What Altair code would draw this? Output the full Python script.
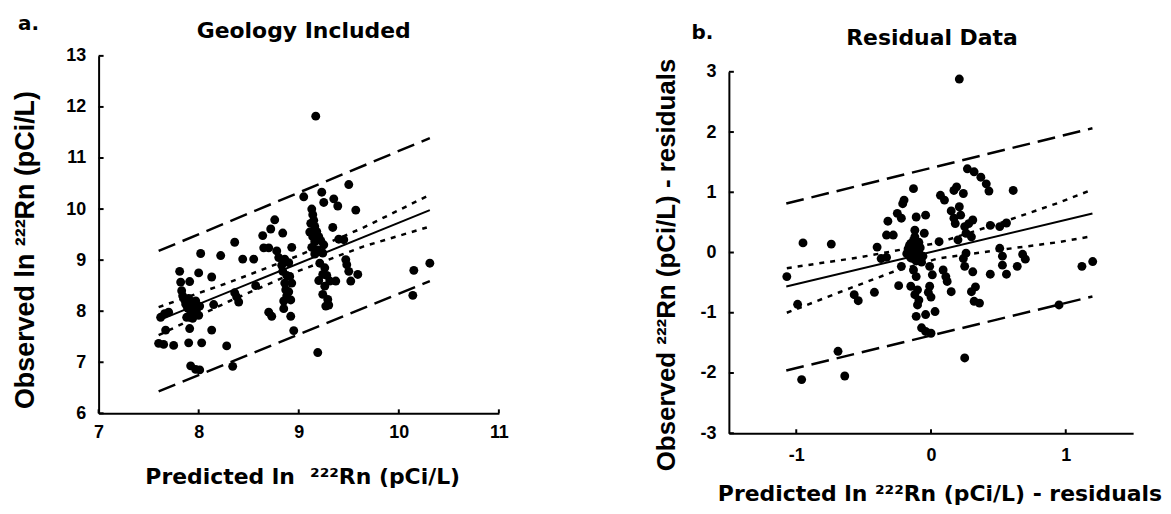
import altair as alt
import pandas as pd

# ---------------- Panel a: Geology Included ----------------
A_PRED = [7.60, 7.65, 7.75, 7.90, 8.03, 7.67, 7.91, 8.13, 7.62, 7.66, 7.70,
          7.81, 8.00, 8.13, 7.82, 7.91, 7.83, 7.84, 7.86, 7.87, 7.89, 7.90,
          7.92, 7.93, 7.95, 7.96, 7.98, 8.00, 7.88, 7.94, 7.97, 7.91, 8.01,
          7.92, 7.97, 8.01, 8.15, 8.02, 8.22, 8.28, 8.34, 8.36, 8.44, 8.55,
          8.36, 8.38, 8.40, 8.57, 8.65, 8.70, 8.64, 8.72, 8.76, 8.84, 8.93,
          8.78, 8.80, 8.86, 8.83, 8.84, 8.88, 8.91, 8.86, 8.93, 8.87, 8.90,
          8.88, 8.85, 8.92, 8.85, 8.92, 8.95, 8.70, 8.73, 8.90,
          9.05, 9.23, 9.25, 9.35, 9.39, 9.50, 9.57, 9.13, 9.14, 9.15, 9.12,
          9.16, 9.11, 9.18, 9.14, 9.20, 9.16, 9.22, 9.25, 9.13, 9.19, 9.24,
          9.16, 9.34, 9.40, 9.45, 9.17,
          9.21, 9.26, 9.24, 9.28, 9.31, 9.37, 9.26, 9.24, 9.29, 9.27, 9.30,
          9.47, 9.48, 9.50, 9.52, 9.59, 9.20, 9.19, 10.15, 10.31, 10.14]
A_OBS = [7.37, 7.35, 7.33, 7.38, 7.38, 7.63, 7.66, 7.63, 7.88, 7.95, 7.98,
         8.78, 8.75, 8.67, 8.57, 8.58, 8.40, 8.30, 8.22, 8.14, 8.06, 8.25,
         8.00, 8.18, 8.10, 7.95, 8.05, 7.92, 7.88, 7.86, 8.20, 8.12, 8.10,
         6.93, 6.86, 6.85, 8.13, 9.13, 9.09, 7.32, 6.92, 9.35, 9.02, 9.02,
         8.36, 8.28, 8.18, 8.50, 9.24, 9.24, 9.48, 9.61, 9.79, 9.53, 9.25,
         9.18, 9.05, 9.02, 8.90, 8.78, 8.70, 8.68, 8.55, 8.55, 8.42, 8.38,
         8.30, 8.20, 8.22, 8.05, 7.90, 7.62, 7.98, 7.90, 8.95,
         10.24, 10.33, 10.13, 10.20, 10.06, 10.48, 9.98, 10.00, 9.89, 9.78, 9.72,
         9.66, 9.55, 9.56, 9.46, 9.46, 9.36, 9.38, 9.30, 9.25, 9.20, 9.14,
         9.12, 9.64, 9.41, 9.40, 11.82,
         8.94, 8.85, 8.72, 8.70, 8.59, 8.59, 8.49, 8.33, 8.23, 8.10, 8.12,
         9.01, 8.91, 8.78, 8.59, 8.72, 8.60, 7.19, 8.80, 8.94, 8.31]

A_FIT_X = [7.60, 10.31]
A_FIT_Y = [7.82, 9.98]
A_CI_X = [7.60, 8.30, 9.00, 9.65, 10.28]
A_CI_UP = [8.08, 8.56, 9.09, 9.64, 10.25]
A_CI_LO = [7.53, 8.19, 8.79, 9.27, 9.64]
A_PI_X = [7.60, 10.31]
A_PI_UP = [9.18, 11.39]
A_PI_LO = [6.43, 8.59]
A_XTICKS = [7, 8, 9, 10, 11]
A_YTICKS = [6, 7, 8, 9, 10, 11, 12, 13]

# ---------------- Panel b: Residual Data ----------------
B_PRED = [0.21, -1.07, -0.95, -0.74, -0.99, -0.96, -0.69, -0.64,
          -0.57, -0.54, -0.42, -0.40, -0.37, -0.33, -0.32, -0.33, -0.28, -0.24,
          -0.25, -0.21, -0.20, -0.22, -0.13, -0.22, -0.11, -0.04, -0.12, -0.05,
          -0.15, -0.11, -0.14, -0.09, -0.16, -0.10, -0.07, -0.13, -0.17, -0.06,
          -0.12, -0.08, -0.18, -0.13, -0.01,
          -0.14, -0.12, -0.10, -0.16, -0.08, -0.11, -0.15, -0.09,
          -0.13, -0.11, -0.15, -0.10, -0.12, -0.09, -0.10, -0.11,
          -0.01, -0.02, 0.00, 0.01, -0.04, 0.03, -0.07, -0.04, 0.00,
          0.06, 0.09, 0.11, 0.12, 0.15,
          0.07, 0.10, 0.15, 0.17, 0.19, 0.24, 0.21, 0.17, 0.22, 0.18, 0.25,
          0.28, 0.31, 0.26, 0.30, 0.20,
          0.26, 0.24, 0.25, 0.31, 0.33, 0.30, 0.32, 0.36,
          0.27, 0.32, 0.37, 0.41, 0.43, 0.61, 0.44, 0.51, 0.56,
          0.51, 0.53, 0.53, 0.56, 0.44, 0.64, 0.68, 0.70,
          0.95, 1.12, 1.20, 0.25]
B_OBS = [2.88, -0.40, 0.16, 0.14, -0.86, -2.11, -1.64, -2.05,
         -0.70, -0.80, -0.66, 0.09, -0.10, -0.08, 0.52, 0.29, 0.29, -0.55,
         0.65, 0.81, 0.87, 0.57, 1.06, -0.23, 0.59, 0.62, 0.37, 0.32,
         0.15, 0.10, 0.02, 0.00, -0.05, -0.08, -0.16, 0.20, 0.06, -0.06,
         0.26, 0.08, -0.02, -0.10, -0.23,
         0.05, -0.03, 0.03, 0.12, -0.12, -0.14, -0.09, 0.17,
         -0.29, -0.40, -0.56, -0.62, -0.70, -0.79, -0.87, -1.06,
         -0.56, -0.66, -0.74, -0.37, -1.03, -0.98, -1.25, -1.31, -1.34,
         0.18, -0.29, -0.40, -0.48, -0.65,
         0.95, 0.87, 0.69, 1.03, 1.09, 0.98, 0.76, 0.57, 0.62, 0.48, 0.43,
         0.48, 0.54, 0.32, 0.26, 0.21,
         -0.01, -0.10, -0.23, -0.32, -0.57, -0.65, -0.81, -0.84,
         1.39, 1.34, 1.25, 1.14, 1.02, 1.03, 0.45, 0.43, 0.49,
         0.07, -0.06, -0.21, -0.36, -0.36, -0.23, -0.03, -0.11,
         -0.87, -0.23, -0.15, -1.75]

B_FIT_X = [-1.074, 1.198]
B_FIT_Y = [-0.565, 0.647]
B_CIU_X = [-1.07, -0.53, 0.05, 0.50, 0.94, 1.17]
B_CIU_Y = [-0.26, -0.08, 0.16, 0.48, 0.82, 1.02]
B_CIL_X = [-1.07, -0.68, -0.28, 0.05, 0.50, 0.94, 1.17]
B_CIL_Y = [-1.00, -0.66, -0.32, -0.10, 0.04, 0.17, 0.26]
B_PI_X = [-1.074, 1.198]
B_PI_UP = [0.813, 2.063]
B_PI_LO = [-1.959, -0.73]
B_XTICKS = [-1, 0, 1]
B_YTICKS = [-3, -2, -1, 0, 1, 2, 3]

TITLE_FONT = "DejaVu Sans"
LABEL_FONT = "Liberation Sans"


def axis(values, pad):
    return alt.Axis(values=values, title=None, grid=False, ticks=False,
                    domainColor="black", domainWidth=2,
                    labelFont=LABEL_FONT, labelFontWeight="bold",
                    labelFontSize=18, labelColor="black", labelPadding=pad,
                    labelExpr="toString(datum.value)", labelFlush=False,
                    labelOverlap=False)


def text_layer(txt, x, y, font, size, angle=0, align="center"):
    kw = dict(font=font, fontSize=size, fontWeight="bold", color="black",
              align=align, baseline="alphabetic")
    if angle:
        kw["angle"] = angle
    return alt.Chart(pd.DataFrame({"t": [txt]})).mark_text(**kw).encode(
        text="t:N", x=alt.value(x), y=alt.value(y))


def panel(px, py, lines, xdom, ydom, xticks, yticks, W, H, texts, xpad, ypad):
    xs = alt.Scale(domain=xdom, nice=False, zero=False)
    ys = alt.Scale(domain=ydom, nice=False, zero=False)
    xa = axis(xticks, xpad)
    ya = axis(yticks, ypad)
    pts = alt.Chart(pd.DataFrame({"x": px, "y": py})).mark_circle(
        size=80, color="black", opacity=1).encode(
        x=alt.X("x:Q", scale=xs, axis=xa),
        y=alt.Y("y:Q", scale=ys, axis=ya))
    layers = [pts]
    for lx, ly, dash, width in lines:
        kw = dict(color="black", strokeWidth=width)
        if dash:
            kw["strokeDash"] = dash
        layers.append(alt.Chart(pd.DataFrame({"x": lx, "y": ly})).mark_line(**kw).encode(
            x=alt.X("x:Q", scale=xs, axis=xa),
            y=alt.Y("y:Q", scale=ys, axis=ya)))
    # inward tick marks
    layers.append(alt.Chart(pd.DataFrame({"y": yticks})).mark_rule(
        color="black", strokeWidth=2).encode(
        y=alt.Y("y:Q", scale=ys, axis=ya), x=alt.value(0), x2=alt.value(5)))
    layers.append(alt.Chart(pd.DataFrame({"x": xticks})).mark_rule(
        color="black", strokeWidth=2).encode(
        x=alt.X("x:Q", scale=xs, axis=xa), y=alt.value(H), y2=alt.value(H - 4)))
    for t in texts:
        layers.append(text_layer(*t))
    return alt.layer(*layers).properties(width=W, height=H)


DASH = [18, 8]
DOT = [5, 6]

panel_a = panel(
    A_PRED, A_OBS,
    [(A_FIT_X, A_FIT_Y, None, 2), (A_CI_X, A_CI_UP, DOT, 2.5), (A_CI_X, A_CI_LO, DOT, 2.5),
     (A_PI_X, A_PI_UP, DASH, 2.5), (A_PI_X, A_PI_LO, DASH, 2.5)],
    [7, 11], [6, 13], A_XTICKS, A_YTICKS, 402, 359,
    [("a.", -81, -26, TITLE_FONT, 20, 0, "left"),
     ("Geology Included", 206, -18, TITLE_FONT, 22),
     ("Observed ln ²²²Rn (pCi/L)", -64.5, 195, LABEL_FONT, 27, 270),
     ("Predicted ln\u00a0 ²²²Rn (pCi/L)", 205, 430, TITLE_FONT, 22)],
    10, 13)

panel_b = panel(
    B_PRED, B_OBS,
    [(B_FIT_X, B_FIT_Y, None, 2), (B_CIU_X, B_CIU_Y, DOT, 2.5), (B_CIL_X, B_CIL_Y, DOT, 2.5),
     (B_PI_X, B_PI_UP, DASH, 2.5), (B_PI_X, B_PI_LO, DASH, 2.5)],
    [-1.5, 1.5], [-3, 3], B_XTICKS, B_YTICKS, 406, 363,
    [("b.", -37.5, -33, TITLE_FONT, 20, 0, "left"),
     ("Residual Data", 204, -27, TITLE_FONT, 22),
     ("Observed ²²²Rn (pCi/L) - residuals", -54.5, 194, LABEL_FONT, 26, 270),
     ("Predicted ln ²²²Rn (pCi/L) - residuals", 212, 431, TITLE_FONT, 22)],
    13, 13)

spacer = alt.Chart(pd.DataFrame({"v": [0]})).mark_point(opacity=0).encode(
    x=alt.X("v:Q", axis=None), y=alt.Y("v:Q", axis=None)).properties(width=406, height=16)

right = alt.vconcat(spacer, panel_b, spacing=0, bounds="flush")
chart = alt.hconcat(panel_a, right, spacing=231, bounds="flush").properties(
    padding={"left": 4, "top": 5, "right": 0, "bottom": 0}
).configure_view(stroke=None)

chart.save("out.html", embed_options={"renderer": "svg", "actions": False})
